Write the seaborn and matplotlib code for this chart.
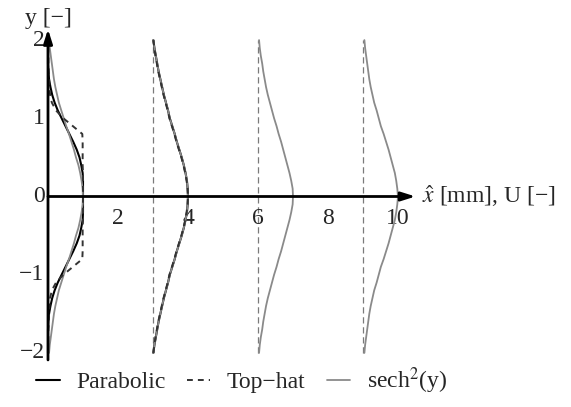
import numpy as np
import pandas as pd
import matplotlib
matplotlib.use("Agg")
import matplotlib.pyplot as plt
from matplotlib.lines import Line2D
import seaborn as sns

# Streamwise stations (mm) where the velocity profiles are drawn
stations = [0, 3, 6, 9]

# Half-profile ordinates (profiles are symmetric about y = 0)
y_half = [0.0, 0.1, 0.2, 0.3, 0.4, 0.5, 0.6, 0.7, 0.8, 0.9, 1.0,
          1.1, 1.2, 1.3, 1.4, 1.5, 1.6, 1.7, 1.8, 1.9, 2.0]

# Normalised velocity U at each station
sech2_x0 = [1.00, 0.99, 0.96, 0.92, 0.87, 0.80, 0.74, 0.67, 0.60, 0.52, 0.45,
            0.38, 0.31, 0.26, 0.21, 0.17, 0.14, 0.11, 0.08, 0.05, 0.03]
sech2_x3 = [1.00, 0.99, 0.97, 0.93, 0.88, 0.82, 0.75, 0.68, 0.62, 0.55, 0.48,
            0.43, 0.37, 0.31, 0.26, 0.21, 0.16, 0.12, 0.08, 0.04, 0.01]
sech2_x6 = [1.00, 0.99, 0.95, 0.90, 0.84, 0.78, 0.72, 0.66, 0.59, 0.53, 0.46,
            0.40, 0.34, 0.28, 0.23, 0.19, 0.15, 0.12, 0.08, 0.05, 0.03]
sech2_x9 = [1.00, 0.98, 0.95, 0.91, 0.85, 0.79, 0.73, 0.66, 0.59, 0.51, 0.45,
            0.39, 0.32, 0.27, 0.22, 0.18, 0.15, 0.12, 0.09, 0.06, 0.04]

parab_x0 = [1.00, 1.00, 1.00, 0.99, 0.95, 0.90, 0.82, 0.72, 0.61, 0.50, 0.39,
            0.28, 0.19, 0.12, 0.07, 0.03, 0.01, 0.00, 0.00, 0.00, 0.00]
parab_x3 = [1.00, 0.99, 0.97, 0.93, 0.88, 0.82, 0.75, 0.68, 0.62, 0.55, 0.48,
            0.43, 0.37, 0.31, 0.26, 0.21, 0.16, 0.12, 0.08, 0.04, 0.01]

tophat_x0 = [1.00, 1.00, 1.00, 1.00, 0.99, 0.99, 0.99, 0.99, 0.98, 0.71, 0.44,
             0.23, 0.11, 0.06, 0.04, 0.03, 0.02, 0.01, 0.01, 0.00, 0.00]
tophat_x3 = [1.00, 0.99, 0.96, 0.92, 0.87, 0.81, 0.74, 0.67, 0.61, 0.54, 0.47,
             0.42, 0.36, 0.30, 0.25, 0.20, 0.15, 0.11, 0.07, 0.04, 0.01]

x_ticks = [2, 4, 6, 8, 10]
y_ticks = [-2, -1, 0, 1, 2]


def full_profile(u_half):
    """Mirror a half profile to cover -2 <= y <= 2."""
    y = np.concatenate([-np.array(y_half[::-1]), np.array(y_half[1:])])
    u = np.concatenate([np.array(u_half[::-1]), np.array(u_half[1:])])
    return y, u


rows = []
for name, station, u_half in [
    ("Parabolic", 0, parab_x0), ("Parabolic", 3, parab_x3),
    ("sech2", 0, sech2_x0), ("sech2", 3, sech2_x3),
    ("sech2", 6, sech2_x6), ("sech2", 9, sech2_x9),
    ("Top-hat", 0, tophat_x0), ("Top-hat", 3, tophat_x3),
]:
    y, u = full_profile(u_half)
    for yy, uu in zip(y, u):
        rows.append({"profile": name, "station": station, "y": yy,
                     "U": uu, "xpos": station + uu})
df = pd.DataFrame(rows)

sns.set_theme(style="white")
plt.rcParams["font.family"] = ["Liberation Serif", "DejaVu Serif"]
plt.rcParams["mathtext.fontset"] = "stix"

W, H = 571, 407
fig = plt.figure(figsize=(W / 100, H / 100), dpi=100)
ax = fig.add_axes([0, 0, 1, 1])
px_x, px_y = 35.0, 78.2
x0_px, y0_px = 48.0, 196.5
ax.set_xlim(-x0_px / px_x, (W - x0_px) / px_x)
ax.set_ylim(-(H - y0_px) / px_y, y0_px / px_y)
ax.axis("off")

gray = "#8a8a8a"
dash_col = "#333333"
th_dashes = (3.0, 2.6)
styles = {
    "Parabolic": dict(color="black", lw=1.5, zorder=3),
    "sech2": dict(color=gray, lw=1.3, zorder=4),
    "Top-hat": dict(color=dash_col, lw=1.4, zorder=5, dashes=th_dashes),
}

# Zero-velocity reference lines at the downstream stations
for s in stations[1:]:
    ax.plot([s, s], [-2, 2], color="#7a7a7a", lw=0.9,
            dashes=(5, 3), zorder=2)

for (name, station), grp in df.groupby(["profile", "station"], sort=False):
    st = dict(styles[name])
    z = st.pop("zorder")
    dashes = st.pop("dashes", None)
    sns.lineplot(data=grp, x="xpos", y="y", sort=False, estimator=None,
                 ax=ax, legend=False, zorder=z, **st)
    if dashes is not None:
        ax.lines[-1].set_dashes(dashes)

# Axes with arrow heads
arrow = dict(arrowstyle="-|>,head_length=0.7,head_width=0.22",
             color="black", lw=2.0, shrinkA=0, shrinkB=0)
ax.annotate("", xy=(10.5, 0), xytext=(0, 0), arrowprops=arrow, zorder=6)
ax.annotate("", xy=(0, 2.14), xytext=(0, -2.09), arrowprops=arrow, zorder=6)

fs = 17
for t in x_ticks:
    ax.text(t, -0.28, str(t), ha="center", va="center", fontsize=fs)
for t in y_ticks:
    lab = str(t).replace("-", "\u2212")
    ax.text(-0.1, t, lab, ha="right", va="center", fontsize=fs)

ax.text(0, 2.28, "y [\u2212]", ha="center", va="center", fontsize=fs)
ax.text(10.68, 0, r"$\hat{x}$ [mm], U [" + "\u2212" + "]",
        ha="left", va="center", fontsize=fs)

handles = [
    Line2D([], [], color="black", lw=1.5),
    Line2D([], [], color=dash_col, lw=1.4, dashes=th_dashes),
    Line2D([], [], color=gray, lw=1.3),
]
labels = ["Parabolic", "Top\u2212hat", "sech$^2$(y)"]
fig.legend(handles, labels, loc="center", bbox_to_anchor=(0.423, 0.064),
           ncol=3, frameon=False, fontsize=fs, handlelength=1.0,
           handletextpad=0.7, columnspacing=0.9)

fig.savefig("out.png", dpi=100)
